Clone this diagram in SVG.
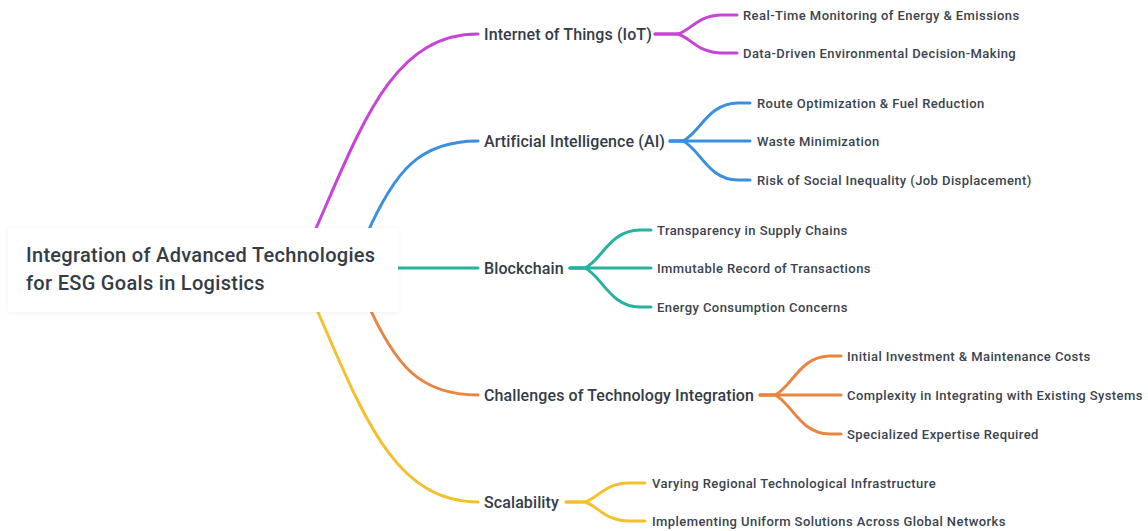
<svg xmlns="http://www.w3.org/2000/svg" width="1148" height="531" viewBox="0 0 1148 531">
<defs>
<filter id="sh" x="-5%" y="-20%" width="110%" height="140%">
<feDropShadow dx="0" dy="1" stdDeviation="2" flood-color="#000" flood-opacity="0.06"/>
</filter>
</defs>
<style>
.c{fill:none;stroke-width:3;stroke-linecap:round}
.p{stroke:#c843d7}.b{stroke:#3a8fe0}.t{stroke:#27b2a0}.o{stroke:#e9853f}.y{stroke:#f5c02d}
text{font-family:Roboto,"Liberation Sans",sans-serif;font-weight:500}
.root{font-size:20px;fill:#333c47;letter-spacing:0.3px}
.br{font-size:16px;fill:#333c47;letter-spacing:0.1px}
.lf{font-size:13px;fill:#3a434e;letter-spacing:0.42px}
</style>
<rect width="1148" height="531" fill="#ffffff"/>
<g id="connectors">
<path class="c p" d="M310 242 C360 130 390 34 478 34"/>
<path class="c b" d="M366 236 C395 170 420 141 478 141"/>
<path class="c t" d="M390 268 L478 268"/>
<path class="c o" d="M366 300 C395 366 420 395 478 395"/>
<path class="c y" d="M310 294 C360 406 390 502 478 502"/>
<path class="c p" d="M655 34 L678 34 C691 30 698 15 722 15 L737 15"/>
<path class="c p" d="M655 34 L678 34 C691 38 698 53 722 53 L737 53"/>
<path class="c b" d="M670 141 L683 141 C700 133 708 103 738 103 L750 103"/>
<path class="c b" d="M670 141 L750 141"/>
<path class="c b" d="M670 141 L683 141 C700 149 708 180 738 180 L750 180"/>
<path class="c t" d="M570 268 L585 268 C602 260 610 230 640 230 L651 230"/>
<path class="c t" d="M570 268 L651 268"/>
<path class="c t" d="M570 268 L585 268 C602 276 610 307 640 307 L651 307"/>
<path class="c o" d="M760 395 L775 395 C792 387 800 356 830 356 L841 356"/>
<path class="c o" d="M760 395 L841 395"/>
<path class="c o" d="M760 395 L775 395 C792 403 800 434 830 434 L841 434"/>
<path class="c y" d="M566 502 L585 502 C598 498 605 483 629 483 L645 483"/>
<path class="c y" d="M566 502 L585 502 C598 506 605 521 629 521 L645 521"/>
</g>
<g id="root">
<rect x="8" y="228" width="390" height="84" fill="#ffffff" filter="url(#sh)"/>
<text class="root" x="26" y="262">Integration of Advanced Technologies</text>
<text class="root" x="26" y="290">for ESG Goals in Logistics</text>
</g>
<g id="n-iot"><text class="br" x="484" y="40">Internet of Things (IoT)</text></g>
<g id="n-ai"><text class="br" x="484" y="147">Artificial Intelligence (AI)</text></g>
<g id="n-bc"><text class="br" x="484" y="274">Blockchain</text></g>
<g id="n-ch"><text class="br" x="484" y="401">Challenges of Technology Integration</text></g>
<g id="n-sc"><text class="br" x="484" y="508">Scalability</text></g>
<g id="l-iot1"><text class="lf" x="743" y="20">Real-Time Monitoring of Energy &amp; Emissions</text></g>
<g id="l-iot2"><text class="lf" x="743" y="58">Data-Driven Environmental Decision-Making</text></g>
<g id="l-ai1"><text class="lf" x="757" y="108">Route Optimization &amp; Fuel Reduction</text></g>
<g id="l-ai2"><text class="lf" x="757" y="146">Waste Minimization</text></g>
<g id="l-ai3"><text class="lf" x="757" y="185">Risk of Social Inequality (Job Displacement)</text></g>
<g id="l-bc1"><text class="lf" x="657" y="235">Transparency in Supply Chains</text></g>
<g id="l-bc2"><text class="lf" x="657" y="273">Immutable Record of Transactions</text></g>
<g id="l-bc3"><text class="lf" x="657" y="312">Energy Consumption Concerns</text></g>
<g id="l-ch1"><text class="lf" x="847" y="361">Initial Investment &amp; Maintenance Costs</text></g>
<g id="l-ch2"><text class="lf" x="847" y="400">Complexity in Integrating with Existing Systems</text></g>
<g id="l-ch3"><text class="lf" x="847" y="439">Specialized Expertise Required</text></g>
<g id="l-sc1"><text class="lf" x="652" y="488">Varying Regional Technological Infrastructure</text></g>
<g id="l-sc2"><text class="lf" x="652" y="526">Implementing Uniform Solutions Across Global Networks</text></g>
</svg>
